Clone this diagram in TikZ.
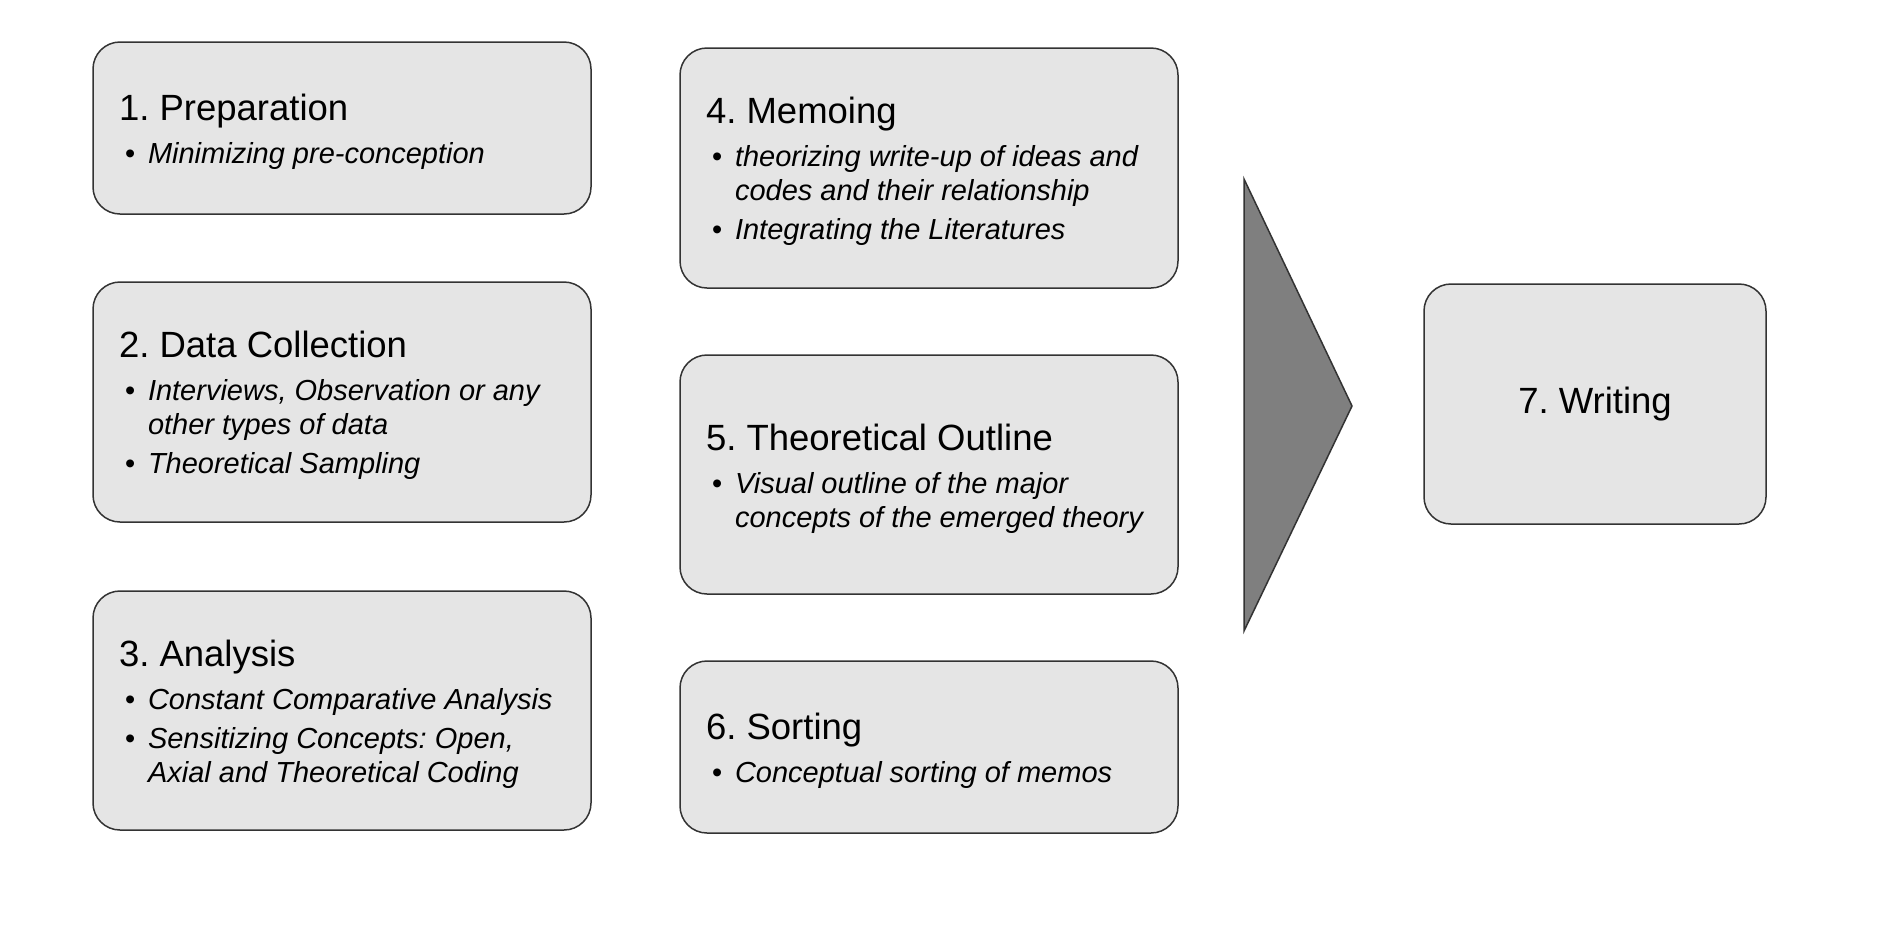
\documentclass[tikz,border=0pt]{standalone}
\usepackage{fontspec}
\setmainfont{Liberation Sans}
\frenchspacing
\definecolor{boxfill}{HTML}{E5E5E5}
\definecolor{boxline}{HTML}{333333}
\definecolor{arrowfill}{HTML}{7F7F7F}
\newcommand{\ttl}[1]{{\fontsize{36.5}{42}\selectfont\frenchspacing\spaceskip=0pt\xspaceskip=0pt\rule{0pt}{34pt}#1\par}\vspace{9pt}}
\newcommand{\bitem}[1]{{\fontsize{29}{34}\selectfont\frenchspacing\spaceskip=0pt\xspaceskip=0pt\hangindent=29pt\hangafter=1\noindent\hspace*{6pt}\makebox[23pt][l]{\textbullet}\textit{#1}\par}}
\newcommand{\gap}{\vspace{5pt}}
\begin{document}
\begin{tikzpicture}[x=1pt,y=-1pt,
  stagebox/.style={draw=boxline, fill=boxfill, line width=1.5pt, rounded corners=27pt,
    inner sep=0pt, minimum width=498pt, text width=446pt, align=left},
  finalbox/.style={draw=boxline, fill=boxfill, line width=1.5pt, rounded corners=27pt,
    inner sep=0pt, minimum width=342pt, minimum height=240pt, align=center,
    font=\fontsize{36.5}{42}\selectfont}]
\useasboundingbox (0,0) rectangle (1898,946);
\node[stagebox, minimum height=172pt] (s1) at (342,128) {%
  \ttl{1. Preparation}\bitem{Minimizing pre-conception}};
\node[stagebox, minimum height=240pt] (s2) at (342,402) {%
  \ttl{2. Data Collection}\bitem{Interviews, Observation or any\newline other types of data}\gap\bitem{Theoretical Sampling}};
\node[stagebox, minimum height=239pt] (s3) at (342,710.5) {%
  \ttl{3. Analysis}\bitem{Constant Comparative Analysis}\gap\bitem{Sensitizing Concepts: Open,\newline Axial and Theoretical Coding}};
\node[stagebox, minimum height=240pt] (s4) at (929,168) {%
  \ttl{4. Memoing}\bitem{theorizing write-up of ideas and\newline codes and their relationship}\gap\bitem{Integrating the Literatures}};
\node[stagebox, minimum height=239pt] (s5) at (929,474.5) {%
  \ttl{5. Theoretical Outline}\bitem{Visual outline of the major\newline concepts of the emerged theory}};
\node[stagebox, minimum height=172pt] (s6) at (929,747) {%
  \ttl{6. Sorting}\bitem{Conceptual sorting of memos}};
\node[finalbox] (s7) at (1595,404) {7. Writing};
\coordinate (t1) at (1244,179);
\coordinate (t2) at (1352,406);
\coordinate (t3) at (1244,631);
\draw[draw=boxline, fill=arrowfill, line width=1.5pt, line join=miter] (t1) -- (t2) -- (t3) -- cycle;
\end{tikzpicture}
\end{document}
